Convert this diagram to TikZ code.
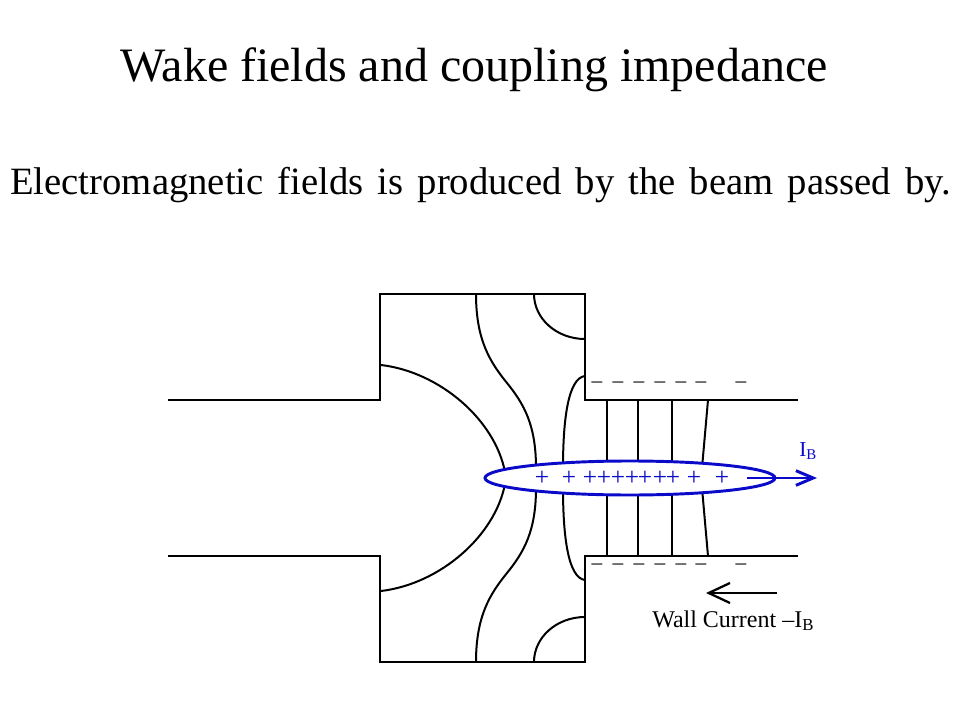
\documentclass[tikz,border=0pt]{standalone}
\usepackage{fontspec}
\setmainfont{Liberation Serif}
\usetikzlibrary{arrows.meta}
\definecolor{beamblue}{RGB}{10,10,200}

\begin{document}
\begin{tikzpicture}[x=0.75pt, y=-0.75pt,
    wall/.style={line width=1.7pt},
    field/.style={line width=1.5pt},
    beam/.style={draw=beamblue, line width=2.2pt},
    txt/.style={inner sep=0pt, anchor=base west},
    charge/.style={inner sep=0pt, font=\fontsize{16}{18}\selectfont}]
  \useasboundingbox (0,0) rectangle (960,720);

  % Headings
  \node[txt, font=\fontsize{36}{40}\selectfont] (title) at (120,82) {Wake fields and coupling impedance};
  \node[txt, font={\fontsize{29}{34}\selectfont\spaceskip=10.6pt\relax}] (subtitle) at (10,195) {Electromagnetic fields is produced by the beam passed by.};

  % Cavity, pipe and field lines (upper half, then mirrored)
  \foreach \s in {1,-1} {
    \begin{scope}[shift={(0,478)}, yscale=\s, shift={(0,-478)}]
      \draw[wall] (168,400) -- (380,400) -- (380,294) -- (585,294) -- (585,400) -- (798,400);
      \draw[field] (381,365) .. controls (440,372) and (495,420) .. (505,472);
      \draw[field] (476,294) .. controls (476,340) and (490,362) .. (507,383)
                             .. controls (524,404) and (536,425) .. (536,468);
      \draw[field] (585,376) .. controls (568,378) and (563,420) .. (563,468);
      \draw[field] (534,294) arc[start angle=180, end angle=90, x radius=51, y radius=45];
      \foreach \x in {607,638,672}
        \draw[field] (\x,400) -- (\x,468);
      \draw[field] (708,400) -- (702,468);
    \end{scope}
  }

  % Wall charges
  \foreach \y in {385,567} {
    \foreach \x in {597,618,639,660,681,701,741}
      \node[charge] (minus\x\y) at (\x,\y) {–};
  }

  % Bunch
  \draw[beam, fill=white] (630,478) ellipse[x radius=145, y radius=17];
  \foreach \x [count=\i] in {542,569,590,604,618,632,645,660,673,694,722}
    \node[charge, text=beamblue, font=\fontsize{19}{21}\selectfont] (plus\i) at (\x,478) {+};
  \coordinate (beamtail) at (747,478);
  \coordinate (beamhead) at (817,478);
  \draw[beam, -{Straight Barb[length=13pt, width=11pt]}] (beamtail) -- (beamhead);
  \node[txt, text=beamblue, font=\fontsize{16}{18}\selectfont] (beamlabel) at (799,456) {I\textsubscript{B}};

  % Wall current
  \coordinate (walltail) at (777,593);
  \coordinate (wallhead) at (706,593);
  \draw[wall, -{Straight Barb[length=16pt, width=15pt]}] (walltail) -- (wallhead);
  \node[txt, font=\fontsize{18}{21}\selectfont] (wallcurrent) at (652,627) {Wall Current –I\textsubscript{B}};
\end{tikzpicture}
\end{document}
